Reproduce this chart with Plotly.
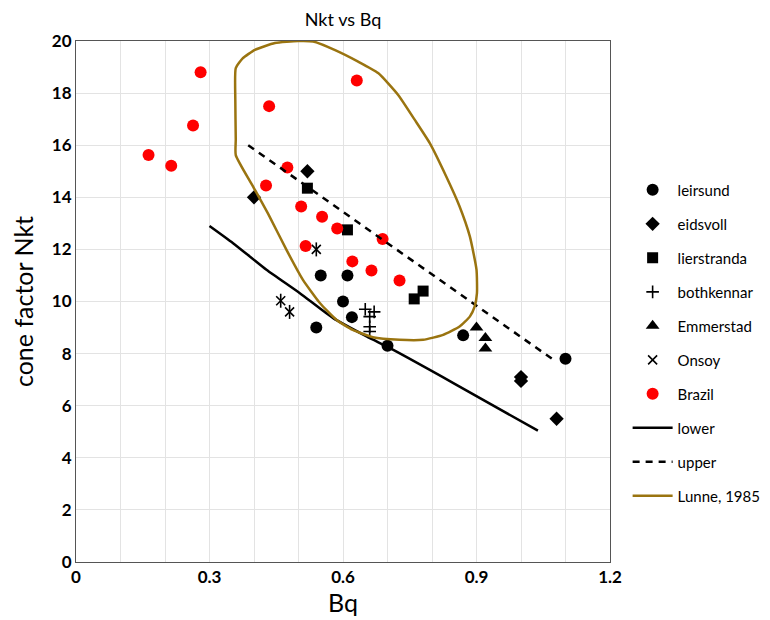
import plotly.graph_objects as go

# ---- data ----
leirsund_bq = [0.54, 0.55, 0.60, 0.61, 0.62, 0.70, 0.87, 1.10]
leirsund_nkt = [9.0, 11.0, 10.0, 11.0, 9.4, 8.3, 8.7, 7.8]

eidsvoll_bq = [0.40, 0.52, 1.00, 1.00, 1.08]
eidsvoll_nkt = [14.0, 15.0, 7.1, 6.95, 5.5]

lierstranda_bq = [0.52, 0.61, 0.76, 0.78]
lierstranda_nkt = [14.35, 12.75, 10.1, 10.4]

bothkennar_bq = [0.65, 0.67, 0.66, 0.66, 0.66]
bothkennar_nkt = [9.7, 9.6, 9.42, 9.03, 8.85]

emmerstad_bq = [0.90, 0.92, 0.92]
emmerstad_nkt = [9.0, 8.6, 8.2]

onsoy_bq = [0.54, 0.46, 0.48]
onsoy_nkt = [12.0, 10.03, 9.6]

brazil_bq = [0.28, 0.434, 0.263, 0.163, 0.214, 0.475, 0.427, 0.506, 0.553,
             0.587, 0.516, 0.689, 0.621, 0.664, 0.727, 0.631]
brazil_nkt = [18.8, 17.5, 16.76, 15.62, 15.21, 15.14, 14.45, 13.65, 13.25,
              12.8, 12.13, 12.4, 11.54, 11.19, 10.81, 18.48]

lower_bq = [0.30, 0.353, 0.428, 0.503, 0.578, 0.653, 0.712, 0.85, 1.038]
lower_nkt = [12.9, 12.24, 11.22, 10.32, 9.36, 8.66, 8.15, 6.85, 5.04]

upper_bq = [0.387, 1.073]
upper_nkt = [16.0, 7.76]

lunne_bq = [0.359, 0.398, 0.435, 0.473, 0.510, 0.548, 0.585, 0.622, 0.667,
            0.727, 0.780, 0.825, 0.862, 0.885, 0.896, 0.901, 0.900, 0.885,
            0.862, 0.832, 0.795, 0.761, 0.724, 0.679, 0.634, 0.581, 0.533,
            0.499, 0.447, 0.402, 0.375, 0.359, 0.358, 0.359, 0.359]
lunne_nkt = [15.62, 14.41, 13.26, 11.98, 10.83, 9.94, 9.30, 8.91, 8.63,
             8.53, 8.53, 8.72, 9.04, 9.42, 9.81, 10.32, 11.22, 12.50,
             13.65, 14.80, 16.08, 16.98, 17.93, 18.77, 19.21, 19.66, 19.98,
             20.0, 19.92, 19.66, 19.34, 18.96, 17.74, 16.21, 15.62]

x_ticks = [0, 0.3, 0.6, 0.9, 1.2]
x_tick_labels = ["0", "0.3", "0.6", "0.9", "1.2"]

FONT = "Lato"
fig = go.Figure()

def add_markers(name, xs, ys, symbol, size, color="black", group=None, lw=0, show=True):
    fig.add_trace(go.Scatter(
        x=xs, y=ys, mode="markers", name=name, showlegend=show,
        legendgroup=group or name,
        marker=dict(symbol=symbol, size=size, color=color,
                    line=dict(width=lw, color=color)),
    ))

add_markers("leirsund", leirsund_bq, leirsund_nkt, "circle", 12)
add_markers("eidsvoll", eidsvoll_bq, eidsvoll_nkt, "diamond", 11)
add_markers("lierstranda", lierstranda_bq, lierstranda_nkt, "square", 11)
add_markers("bothkennar", bothkennar_bq, bothkennar_nkt, "cross-thin-open", 9, lw=1.6)
add_markers("Emmerstad", emmerstad_bq, emmerstad_nkt, "triangle-up", 12)
add_markers("Onsoy", onsoy_bq, onsoy_nkt, "x-thin-open", 9, lw=1.6)
add_markers("Onsoy", onsoy_bq, onsoy_nkt, "line-ns-open", 10, lw=1.6, group="Onsoy", show=False)
add_markers("Brazil", brazil_bq, brazil_nkt, "circle", 12, color="#FF0000")

fig.add_trace(go.Scatter(x=lower_bq, y=lower_nkt, mode="lines", name="lower",
                         legendgroup="lower", line=dict(color="black", width=2.5, shape="spline", smoothing=0.6)))
fig.add_trace(go.Scatter(x=upper_bq, y=upper_nkt, mode="lines", name="upper",
                         legendgroup="upper", line=dict(color="black", width=2.5, dash="7px,6px")))
fig.add_trace(go.Scatter(x=lunne_bq, y=lunne_nkt, mode="lines", name="Lunne, 1985",
                         legendgroup="lunne", line=dict(color="#9A7410", width=2.5, shape="spline", smoothing=0.5)))

# the page body adds an 8px offset, so the figure is 762x612
fig.update_layout(
    width=762, height=612,
    margin=dict(l=68, r=160, t=33, b=58, autoexpand=False),
    paper_bgcolor="white", plot_bgcolor="white",
    font=dict(family=FONT, color="black"),
    title=dict(text="Nkt vs Bq", x=335 / 762, xanchor="center",
               y=1 - 12 / 612, yanchor="middle", font=dict(size=18, family=FONT)),
    legend=dict(x=1.033, xanchor="left", y=0.7455, yanchor="top",
                font=dict(size=15, family=FONT), tracegroupgap=11.5,
                bgcolor="rgba(0,0,0,0)", itemwidth=40),
    showlegend=True,
)

fig.update_xaxes(
    range=[0, 1.2], tickvals=x_ticks, ticktext=x_tick_labels,
    tickfont=dict(size=17, family=FONT, weight="bold"),
    showgrid=True, gridcolor="#E3E3E3", gridwidth=1,
    minor=dict(dtick=0.1, showgrid=True, gridcolor="#E3E3E3", gridwidth=1),
    showline=True, linecolor="#555555", linewidth=1, mirror=True,
    zeroline=False, ticks="", automargin=False,
    title=dict(text="Bq", font=dict(size=25, family=FONT), standoff=2),
)
fig.update_yaxes(
    range=[0, 20], dtick=2,
    tickfont=dict(size=17, family=FONT, weight="bold"),
    showgrid=True, gridcolor="#E3E3E3", gridwidth=1,
    showline=True, linecolor="#555555", linewidth=1, mirror=True,
    zeroline=False, ticks="", automargin=False,
    title=dict(text="cone factor Nkt", font=dict(size=25, family=FONT), standoff=14),
)

fig.write_html("out.html")
